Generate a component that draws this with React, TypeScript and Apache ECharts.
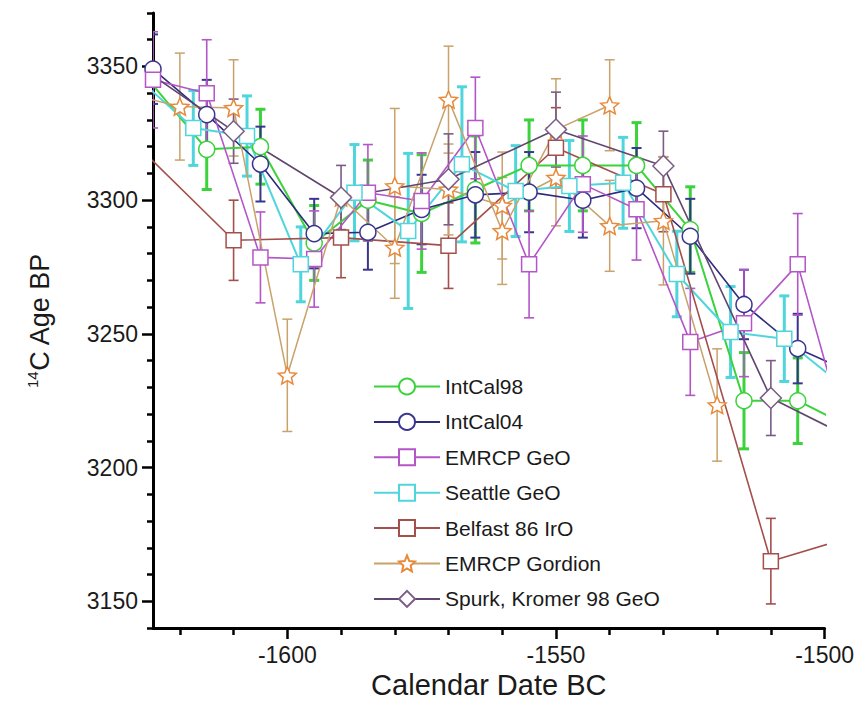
import React, { useEffect, useRef } from "react";
import * as echarts from "echarts";

// ---- axes ----
const X_MIN = -1625;
const X_MAX = -1500;
const Y_MIN = 3140;
const Y_MAX = 3370;
const xMajorTicks = [-1600, -1550, -1500];
const xMinorTicks = [-1620, -1610, -1590, -1580, -1570, -1560, -1540, -1530, -1520, -1510];
const yMajorTicks = [3150, 3200, 3250, 3300, 3350];
const yMinorTicks = [3140, 3160, 3170, 3180, 3190, 3210, 3220, 3230, 3240, 3260, 3270, 3280, 3290, 3310, 3320, 3330, 3340, 3360, 3370];

// ---- data ----
const intcal98Years = [-1635, -1615, -1605, -1595, -1585, -1575, -1565, -1555, -1545, -1535, -1525, -1515, -1505, -1495];
const intcal98Values = [3367, 3319, 3320, 3284, 3300, 3295, 3304, 3313, 3313, 3313, 3289, 3225, 3225, 3215];
const intcal98Errors = [15, 15, 14, 14, 15, 22, 20, 17, 17, 16, 16, 18, 16, 16];

const intcal04Years = [-1625, -1615, -1605, -1595, -1585, -1575, -1565, -1555, -1545, -1535, -1525, -1515, -1505, -1495];
const intcal04Values = [3349, 3332, 3313.5, 3287.5, 3288, 3296.5, 3302, 3303, 3300, 3304.5, 3286.5, 3261, 3244.5, 3235.5];
const intcal04Errors = [13, 13, 14, 13, 14, 13, 16, 15, 14, 15, 14, 13, 13, 13];

const emrcpGeoYears = [-1625, -1615, -1605, -1595, -1585, -1575, -1565, -1555, -1545, -1535, -1525, -1515, -1505, -1495];
const emrcpGeoValues = [3345, 3340, 3278.6, 3278, 3302.8, 3299.7, 3327, 3276, 3306, 3296.6, 3247, 3254, 3276, 3204];
const emrcpGeoErrors = [18, 20, 17, 18, 18, 18, 19, 20, 18, 19, 20, 20, 19, 19];

const seattleYears = [-1627.5, -1617.5, -1607.5, -1597.5, -1587.5, -1577.5, -1567.5, -1557.5, -1547.5, -1537.5, -1527.5, -1517.5, -1507.5, -1497.5];
const seattleValues = [3345, 3327, 3324, 3276, 3302.8, 3288.5, 3313.4, 3303.4, 3305.3, 3306.5, 3272.4, 3250.7, 3248.2, 3232];
const seattleErrors = [15, 14, 15, 14, 18, 29, 29, 17, 17, 17, 16, 17, 16, 16];

const belfastYears = [-1630, -1610, -1590, -1570, -1550, -1530, -1510, -1490];
const belfastValues = [3324.5, 3285, 3286, 3283, 3319.6, 3302.2, 3165, 3177];
const belfastErrors = [15, 15, 15, 16, 15, 14, 16, 16];

const gordionAYears = [-1630, -1620, -1610, -1600, -1590, -1580, -1570, -1560, -1550, -1540];
const gordionAValues = [3340, 3335, 3334.5, 3234.5, 3301, 3282.3, 3337.6, 3288.5, 3326.4, 3335.5];
const gordionAErrors = [20, 20, 18, 21, 0, 19, 20, 20, 19, 17];

const gordionBYears = [-1580, -1570, -1560, -1550, -1540, -1530, -1520];
const gordionBValues = [3305.3, 3304, 3298, 3308.4, 3290.4, 3292.3, 3223.4];
const gordionBErrors = [29, 17, 20, 18, 17, 24, 21];

const spurkYears = [-1630, -1610, -1590, -1570, -1550, -1530, -1510, -1490];
const spurkValues = [3353.5, 3325.8, 3301, 3307.8, 3326.4, 3312.8, 3226, 3206];
const spurkErrors = [12, 12, 12, 17, 14, 13, 14, 14];

const legendNames = ["IntCal98", "IntCal04", "EMRCP GeO", "Seattle GeO", "Belfast 86 IrO", "EMRCP Gordion", "Spurk, Kromer 98 GeO"];

// star symbol
const starPts: string[] = [];
for (let i = 0; i < 10; i++) {
  const a = -Math.PI / 2 + (i * Math.PI) / 5;
  const r = i % 2 === 0 ? 50 : 23;
  starPts.push((50 + r * Math.cos(a)).toFixed(2) + "," + (50 + r * Math.sin(a)).toFixed(2));
}
const STAR = "path://M" + starPts.join("L") + "Z";

const FONT = "'Liberation Sans', Arial, Helvetica, sans-serif";

type Def = {
  name: string;
  years: number[];
  values: number[];
  errors: number[];
  line: string;
  mark: string;
  lw: number;
  ew: number;
  symbol: string;
  size: number | number[];
};

const defs: Def[] = [
  { name: "IntCal98", years: intcal98Years, values: intcal98Values, errors: intcal98Errors, line: "#3bd23b", mark: "#3bd23b", lw: 2, ew: 3, symbol: "circle", size: 16 },
  { name: "IntCal04", years: intcal04Years, values: intcal04Values, errors: intcal04Errors, line: "#2f2b7e", mark: "#3a3590", lw: 1.6, ew: 2, symbol: "circle", size: 16 },
  { name: "EMRCP GeO", years: emrcpGeoYears, values: emrcpGeoValues, errors: emrcpGeoErrors, line: "#b455c8", mark: "#b455c8", lw: 1.6, ew: 1.6, symbol: "rect", size: 15 },
  { name: "Seattle GeO", years: seattleYears, values: seattleValues, errors: seattleErrors, line: "#4fd6dc", mark: "#4fd6dc", lw: 2, ew: 3, symbol: "rect", size: 15 },
  { name: "Belfast 86 IrO", years: belfastYears, values: belfastValues, errors: belfastErrors, line: "#a34f4b", mark: "#a34f4b", lw: 1.6, ew: 1.6, symbol: "rect", size: 15 },
  { name: "EMRCP Gordion", years: gordionAYears, values: gordionAValues, errors: gordionAErrors, line: "#c9a26b", mark: "#e8893a", lw: 1.5, ew: 1.5, symbol: STAR, size: 18 },
  { name: "EMRCP Gordion", years: gordionBYears, values: gordionBValues, errors: gordionBErrors, line: "#c9a26b", mark: "#e8893a", lw: 1.5, ew: 1.5, symbol: STAR, size: 18 },
  { name: "Spurk, Kromer 98 GeO", years: spurkYears, values: spurkValues, errors: spurkErrors, line: "#62466f", mark: "#7a5c86", lw: 1.6, ew: 1.6, symbol: "diamond", size: 21 },
];

export default function App() {
  const ref = useRef<HTMLDivElement>(null);
  useEffect(() => {
    document.body.style.margin = "0";
    const chart = echarts.init(ref.current as HTMLDivElement, null, { renderer: "svg" });

    const errSeries = defs.map((d, k) => {
      const data: number[][] = [];
      d.years.forEach((y, i) => {
        if (y >= X_MIN && y <= X_MAX && d.errors[i] > 0) {
          data.push([y, d.values[i] - d.errors[i], d.values[i] + d.errors[i]]);
        }
      });
      const stroke = d.name === "EMRCP Gordion" ? d.line : d.mark;
      return {
        type: "custom",
        name: "err" + k,
        z: 1,
        silent: true,
        clip: true,
        encode: { x: 0, y: [1, 2] },
        data,
        renderItem: (params: any, api: any) => {
          const x = api.value(0);
          const top = api.coord([x, api.value(2)]);
          const bot = api.coord([x, api.value(1)]);
          const hw = 5;
          const style = { stroke, lineWidth: d.ew, fill: "none" };
          return {
            type: "group",
            children: [
              { type: "line", shape: { x1: top[0], y1: top[1], x2: bot[0], y2: bot[1] }, style },
              { type: "line", shape: { x1: top[0] - hw, y1: top[1], x2: top[0] + hw, y2: top[1] }, style },
              { type: "line", shape: { x1: bot[0] - hw, y1: bot[1], x2: bot[0] + hw, y2: bot[1] }, style },
            ],
          };
        },
      };
    });

    const lineSeries = defs.map((d) => ({
      type: "line",
      name: d.name,
      z: 3,
      clip: true,
      showSymbol: true,
      showAllSymbol: true,
      symbol: d.symbol,
      symbolSize: d.size,
      symbolKeepAspect: true,
      data: d.years.map((y, i) => [y, d.values[i]]),
      lineStyle: { color: d.line, width: d.lw },
      itemStyle: { color: "#ffffff", borderColor: d.mark, borderWidth: 1.5 },
      emphasis: { disabled: true },
    }));

    const axisFont = { fontFamily: FONT, fontSize: 23, color: "#1a1a1a" };

    chart.setOption({
      animation: false,
      backgroundColor: "#ffffff",
      grid: { left: 153, right: 32, top: 13, bottom: 87, containLabel: false },
      legend: {
        data: legendNames,
        orient: "vertical",
        left: 368,
        top: 371,
        itemWidth: 66,
        itemHeight: 20,
        itemGap: 14.4,
        selectedMode: false,
        textStyle: { fontFamily: FONT, fontSize: 21, color: "#1a1a1a", lineHeight: 21 },
      },
      xAxis: [
        {
          type: "value",
          min: X_MIN,
          max: X_MAX,
          position: "bottom",
          axisLine: { show: true, onZero: false, lineStyle: { color: "#000", width: 3 } },
          axisTick: { show: true, customValues: xMajorTicks, length: 11, lineStyle: { color: "#000", width: 2.5 } },
          axisLabel: { customValues: xMajorTicks, margin: 15, formatter: (v: number) => String(v), ...axisFont },
          splitLine: { show: false },
          name: "Calendar Date BC",
          nameLocation: "middle",
          nameGap: 37,
          nameTextStyle: { fontFamily: FONT, fontSize: 29, color: "#1a1a1a" },
        },
        {
          type: "value",
          min: X_MIN,
          max: X_MAX,
          position: "bottom",
          axisLine: { show: false, onZero: false },
          axisTick: { show: true, customValues: xMinorTicks, length: 7, lineStyle: { color: "#000", width: 2.5 } },
          axisLabel: { show: false },
          splitLine: { show: false },
        },
      ],
      yAxis: [
        {
          type: "value",
          min: Y_MIN,
          max: Y_MAX,
          position: "left",
          axisLine: { show: true, onZero: false, lineStyle: { color: "#000", width: 3 } },
          axisTick: { show: true, customValues: yMajorTicks, length: 11, lineStyle: { color: "#000", width: 2.5 } },
          axisLabel: { customValues: yMajorTicks, margin: 15, formatter: (v: number) => String(v), ...axisFont },
          splitLine: { show: false },
          name: "{sup|14}{n|C Age BP}",
          nameLocation: "middle",
          nameGap: 98,
          nameRotate: 90,
          nameTextStyle: {
            fontFamily: FONT,
            color: "#1a1a1a",
            rich: {
              sup: { fontFamily: FONT, fontSize: 15, color: "#1a1a1a", verticalAlign: "top", lineHeight: 30 },
              n: { fontFamily: FONT, fontSize: 27, color: "#1a1a1a", lineHeight: 30 },
            },
          },
        },
        {
          type: "value",
          min: Y_MIN,
          max: Y_MAX,
          position: "left",
          axisLine: { show: false, onZero: false },
          axisTick: { show: true, customValues: yMinorTicks, length: 6, lineStyle: { color: "#000", width: 2.5 } },
          axisLabel: { show: false },
          splitLine: { show: false },
        },
      ],
      series: [...errSeries, ...lineSeries],
    });
    return () => chart.dispose();
  }, []);
  return <div ref={ref} style={{ position: "absolute", left: 0, top: 0, width: 857, height: 715, background: "#fff" }} />;
}
